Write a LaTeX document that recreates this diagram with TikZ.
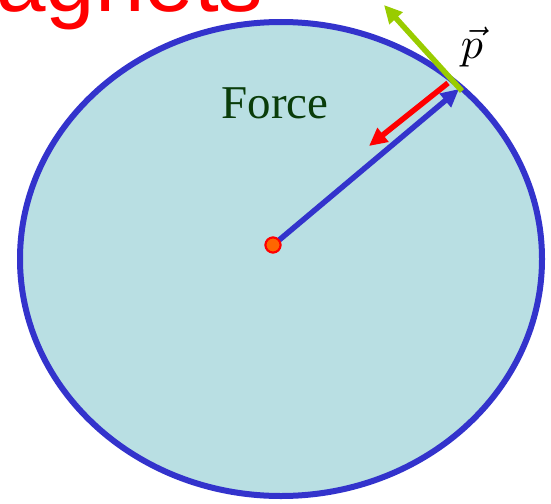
\documentclass[tikz,border=0pt]{standalone}
\usepackage{fontspec}
\setmainfont{Liberation Serif}
\newfontfamily\titlefont{Liberation Sans}
\usetikzlibrary{arrows.meta}
\definecolor{ringblue}{HTML}{3333CC}
\definecolor{discfill}{HTML}{B9DFE3}
\definecolor{forcegreen}{HTML}{0A3D0A}
\definecolor{pgreen}{HTML}{99CC00}
\definecolor{dotorange}{HTML}{FF6600}
\tikzset{
  vecarrow/.style={line width=5.5pt, -{Triangle[length=18pt,width=17pt]}},
  dotstyle/.style={circle, draw=red, line width=2pt, fill=dotorange, minimum size=15pt, inner sep=0pt},
}
\begin{document}
\begin{tikzpicture}[x=1pt,y=-1pt]
\useasboundingbox (0,0) rectangle (551,503);
\node[anchor=base west, inner sep=0pt, text=red, font=\titlefont\fontsize{89}{92}\selectfont] (title) at (-4,12) {agnets};
\draw[ringblue, line width=6pt, fill=discfill] (281,259) ellipse [x radius=261, y radius=237];
\node[anchor=base, inner sep=0pt, text=forcegreen, font=\fontsize{47}{50}\selectfont] (force) at (275,118) {Force};
\node[inner sep=0pt] (p) at (472,47) {\scalebox{4.4}{$\vec{p}$}};
\coordinate (btip) at (459,89);
\coordinate (rs) at (448,83);
\coordinate (rt) at (369,146);
\coordinate (gs) at (462,91);
\coordinate (gt) at (384,5);
\node[dotstyle] (c) at (273,245) {};
\draw[vecarrow, ringblue] (c.center) ++(5,-4) -- (btip);
\draw[vecarrow, red] (rs) -- (rt);
\draw[vecarrow, pgreen] (gs) -- (gt);
\node[dotstyle] at (c) {};
\end{tikzpicture}
\end{document}
